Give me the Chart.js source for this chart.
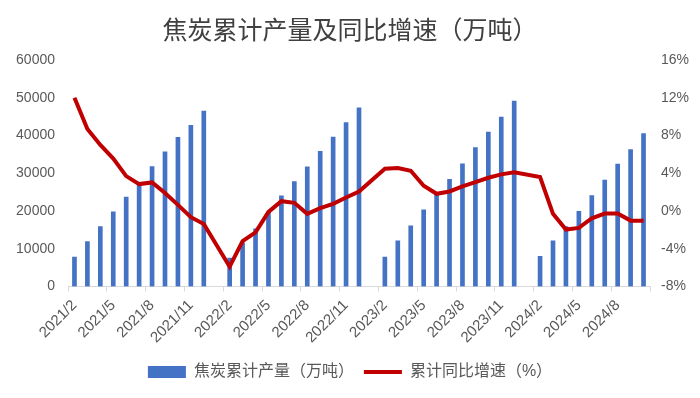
<!DOCTYPE html>
<html lang="zh">
<head>
    <meta charset="UTF-8">
    <title>焦炭累计产量及同比增速</title>
    <script src="https://cdn.jsdelivr.net/npm/chart.js"></script>
    <style>
        body { margin: 0; background: #fff; }
        #cokeChart { display: block; }
    </style>
</head>
<body>
    <canvas id="cokeChart" width="700" height="398"></canvas>
    <script>
        const months = [
            '2021/2', '2021/3', '2021/4', '2021/5', '2021/6', '2021/7', '2021/8', '2021/9', '2021/10', '2021/11', '2021/12',
            '2022/1', '2022/2', '2022/3', '2022/4', '2022/5', '2022/6', '2022/7', '2022/8', '2022/9', '2022/10', '2022/11', '2022/12',
            '2023/1', '2023/2', '2023/3', '2023/4', '2023/5', '2023/6', '2023/7', '2023/8', '2023/9', '2023/10', '2023/11', '2023/12',
            '2024/1', '2024/2', '2024/3', '2024/4', '2024/5', '2024/6', '2024/7', '2024/8', '2024/9', '2024/10'
        ];
        // 累计产量（万吨），1月无数据
        const output = [
            7800, 11900, 15900, 19800, 23700, 27000, 31800, 35700, 39500, 42700, 46500,
            null, 7500, 11600, 15300, 19700, 24000, 27800, 31700, 35800, 39600, 43400, 47300,
            null, 7800, 12100, 16100, 20300, 24400, 28400, 32500, 36800, 40900, 44900, 49100,
            null, 8000, 12100, 15900, 19900, 24100, 28200, 32400, 36300, 40500
        ];
        // 累计同比增速（%）
        const growth = [
            12.0, 8.7, 7.0, 5.55, 3.7, 2.85, 3.03, 1.9, 0.65, -0.66, -1.37,
            null, -5.9, -3.2, -2.26, -0.09, 1.04, 0.87, -0.3, 0.3, 0.76, 1.43, 2.07,
            null, 4.48, 4.55, 4.27, 2.67, 1.82, 2.07, 2.6, 3.07, 3.52, 3.88, 4.1,
            null, 3.6, -0.3, -1.97, -1.79, -0.77, -0.27, -0.27, -1.02, -1.02
        ];
        const leftTicks = [0, 60000, 10000];
        const rightTicks = [-8, 16, 4];

        const grey = '#595959';
        const fontFamily = '"Liberation Sans", "Noto Sans CJK SC", sans-serif';
        Chart.defaults.font.family = fontFamily;
        Chart.defaults.color = grey;

        new Chart(document.getElementById('cokeChart'), {
            data: {
                labels: months,
                datasets: [
                    {
                        type: 'bar',
                        label: '焦炭累计产量（万吨）',
                        data: output,
                        backgroundColor: '#4472C4',
                        barThickness: 4,
                        pointStyle: 'rect',
                        yAxisID: 'y',
                        order: 1
                    },
                    {
                        type: 'line',
                        label: '累计同比增速（%）',
                        data: growth,
                        borderColor: '#C00000',
                        backgroundColor: '#C00000',
                        borderWidth: 4,
                        pointRadius: 0,
                        pointHoverRadius: 0,
                        pointBorderWidth: 4,
                        pointBorderColor: '#C00000',
                        pointStyle: 'line',
                        tension: 0,
                        spanGaps: true,
                        yAxisID: 'y1',
                        order: 0
                    }
                ]
            },
            options: {
                responsive: false,
                animation: false,
                layout: { padding: { bottom: 8 } },
                plugins: {
                    title: {
                        display: true,
                        text: '焦炭累计产量及同比增速（万吨）',
                        color: '#404040',
                        font: { size: 25, weight: 'normal', family: '"Noto Sans CJK SC", sans-serif', lineHeight: 1.2 },
                        padding: { top: 14, bottom: 16 }
                    },
                    legend: {
                        position: 'bottom',
                        labels: {
                            usePointStyle: true,
                            pointStyleWidth: 38,
                            boxHeight: 12,
                            padding: 10,
                            color: grey,
                            font: { size: 16 },
                            sort: (a, b) => a.datasetIndex - b.datasetIndex
                        }
                    },
                    tooltip: { enabled: false }
                },
                scales: {
                    x: {
                        offset: true,
                        grid: {
                            offset: true,
                            drawOnChartArea: false,
                            tickLength: 5,
                            tickColor: ctx => (ctx.index === undefined || ctx.index % 3 === 0) ? '#D9D9D9' : 'rgba(0,0,0,0)'
                        },
                        border: { color: '#D9D9D9', width: 1 },
                        ticks: {
                            autoSkip: false,
                            maxRotation: 45,
                            minRotation: 45,
                            color: grey,
                            font: { size: 15 },
                            padding: 5,
                            callback: (v, i) => i % 3 === 0 ? months[i] : ''
                        },
                        afterFit: s => { s.height = 67.5; }
                    },
                    y: {
                        position: 'left',
                        min: leftTicks[0],
                        max: leftTicks[1],
                        grid: { display: false, drawTicks: false },
                        border: { display: false },
                        ticks: { stepSize: leftTicks[2], padding: 13, color: grey, font: { size: 14 }, callback: v => String(v) },
                        afterFit: s => { s.width = 68; }
                    },
                    y1: {
                        position: 'right',
                        min: rightTicks[0],
                        max: rightTicks[1],
                        grid: { display: false, drawTicks: false },
                        border: { display: false },
                        ticks: { stepSize: rightTicks[2], padding: 11, color: grey, font: { size: 14 }, callback: v => v + '%' },
                        afterFit: s => { s.width = 50; }
                    }
                }
            }
        });
    </script>
</body>
</html>
